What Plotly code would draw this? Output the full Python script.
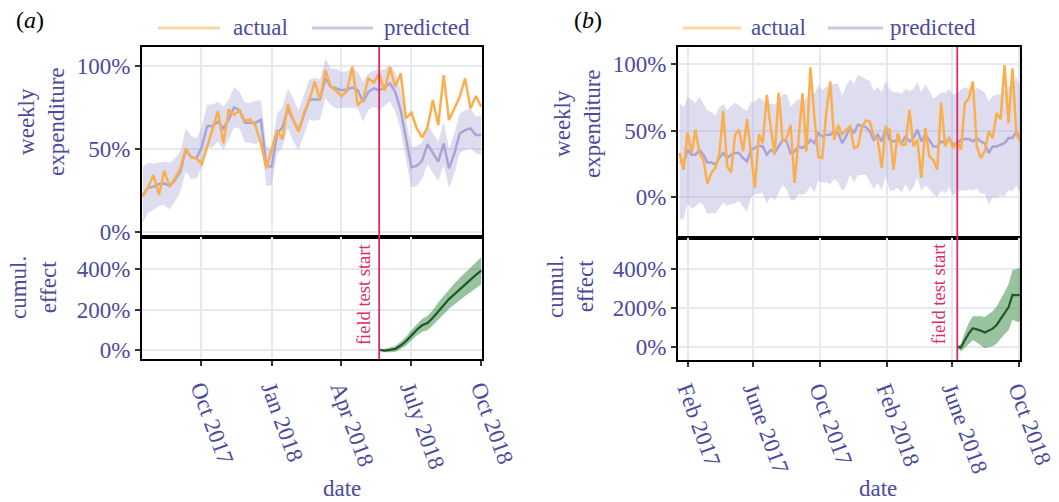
import plotly.graph_objects as go
import pandas as pd

W, H = 1059, 502

# ---------------- data: panel (a) ----------------
a_dates = pd.date_range("2017-07-17", periods=64, freq="7D")
a_actual = [21.3, 27.3, 34.3, 22.3, 36.9, 27.3, 32.3, 38.4, 50.4, 45.0,
            44.4, 41.0, 51.4, 61.8, 72.9, 53.4, 73.9, 70.5, 73.5, 66.9,
            67.9, 63.9, 53.4, 38.4, 49.4, 61.4, 55.8, 77.1, 67.5, 60.4,
            71.5, 79.5, 90.6, 79.9, 97.6, 87.6, 85.1, 81.9, 85.1, 99.6,
            76.5, 79.9, 92.6, 90.0, 95.6, 85.1, 99.2, 87.6, 95.6, 68.5,
            71.9, 62.4, 57.0, 63.1, 79.5, 64.5, 94.6, 67.5, 74.5, 81.5,
            92.6, 74.5, 81.9, 75.5]
a_pred = [22.3, 26.7, 27.3, 28.9, 29.3, 27.7, 31.3, 36.3, 49.4, 45.0,
          44.4, 51.4, 63.9, 63.9, 66.5, 62.4, 67.9, 75.1, 73.5, 65.9,
          65.9, 65.9, 67.5, 39.8, 39.4, 59.4, 63.1, 74.5, 67.5, 61.4,
          70.5, 79.9, 79.9, 79.9, 92.6, 87.6, 86.5, 85.5, 85.9, 87.1,
          85.5, 78.5, 84.5, 86.5, 85.5, 87.1, 89.6, 84.5, 73.5, 55.4,
          39.0, 39.8, 43.0, 53.0, 47.4, 42.4, 53.4, 38.4, 47.4, 59.4,
          61.4, 62.4, 58.4, 58.4]
a_band = [17, 15, 14, 13, 13, 14, 13, 12, 13, 13,
          12, 12, 13, 13, 12, 13, 12, 12, 11, 12,
          12, 13, 12, 12, 11, 12, 12, 12, 13, 12,
          12, 12, 13, 12, 12, 11, 12, 11, 11, 12,
          11, 12, 11, 11, 12, 11, 11, 12, 12, 12,
          12, 12, 11, 12, 12, 12, 13, 12, 12, 12,
          12, 12, 11, 12]
a_field_test = "2018-05-21"
a_start = 44
a_cum = [0, -3, 0, 5, 22, 43, 72, 100, 122, 133,
         160, 193, 222, 252, 277, 302, 325, 347, 372, 393]
a_cum_band = [2, 8, 12, 15, 18, 22, 25, 28, 32, 35,
              38, 42, 45, 48, 52, 55, 58, 61, 64, 67]
a_tickvals = ["2017-10-01", "2018-01-01", "2018-04-01", "2018-07-01", "2018-10-01"]
a_ticktext = ["Oct 2017", "Jan 2018", "Apr 2018", "July 2018", "Oct 2018"]

# ---------------- data: panel (b) ----------------
b_dates = pd.date_range("2017-01-17", "2018-10-11", periods=88)
b_actual = [33.0, 20.5, 48.6, 33.0, 50.6, 33.0, 28.0, 10.0, 18.0, 21.8,
            31.8, 64.8, 23.0, 18.5, 46.8, 50.6, 34.3, 58.6, 33.0, 6.8,
            47.3, 40.5, 76.8, 51.8, 31.8, 78.6, 41.8, 44.3, 54.3, 10.5,
            43.0, 78.1, 34.3, 97.6, 60.6, 30.0, 29.3, 63.1, 86.9, 43.0,
            54.3, 46.8, 50.6, 53.1, 36.8, 38.0, 52.6, 57.6, 56.8, 45.6,
            43.0, 21.8, 52.6, 50.6, 20.5, 48.1, 39.3, 39.3, 65.6, 38.0,
            43.0, 14.3, 51.8, 30.5, 28.0, 20.5, 71.1, 38.0, 44.3, 36.8,
            41.8, 35.5, 70.6, 74.3, 86.9, 38.0, 29.3, 34.3, 49.3, 44.3,
            63.1, 58.6, 99.4, 55.6, 96.9, 46.8, 41.8, 81.8]
b_pred = [26.8, 25.5, 35.5, 31.8, 31.8, 35.5, 31.8, 26.0, 26.0, 24.3,
          29.3, 33.0, 29.3, 31.8, 33.0, 33.0, 29.3, 26.8, 35.5, 36.8,
          38.5, 38.0, 31.8, 35.5, 33.5, 38.0, 43.0, 41.8, 33.0, 34.3,
          38.0, 36.8, 39.3, 43.0, 40.5, 48.1, 45.6, 46.8, 46.8, 49.3,
          48.1, 40.5, 45.6, 52.6, 48.1, 54.3, 53.6, 52.6, 49.3, 43.0,
          46.8, 41.8, 51.8, 43.0, 41.8, 43.0, 40.5, 45.6, 41.8, 44.3,
          50.6, 41.8, 46.8, 43.0, 38.0, 38.0, 41.8, 40.5, 44.3, 39.3,
          40.5, 43.0, 43.6, 43.6, 41.8, 44.3, 41.8, 40.5, 33.0, 38.0,
          38.0, 39.3, 40.5, 44.3, 44.3, 49.3, 43.0, 43.0]
b_band = [44, 42, 40, 41, 39, 40, 38, 39, 38, 37,
          38, 37, 36, 37, 38, 36, 37, 38, 36, 35,
          36, 35, 37, 35, 36, 35, 34, 36, 35, 37,
          36, 35, 36, 35, 37, 36, 35, 36, 37, 36,
          37, 36, 38, 36, 37, 38, 37, 36, 38, 37,
          36, 37, 36, 38, 37, 36, 37, 36, 38, 37,
          36, 37, 38, 37, 36, 38, 37, 38, 37, 38,
          37, 38, 39, 38, 37, 38, 39, 38, 39, 38,
          39, 38, 40, 39, 40, 41, 40, 40]
b_field_test = "2018-06-10"
b_start = 70
b_cum = [0, -3, 36, 70, 96, 91, 84, 74, 84, 94,
         113, 143, 173, 204, 268, 266, 268, 294]
b_cum_band = [3, 20, 40, 55, 62, 68, 74, 80, 85, 90,
              95, 100, 108, 118, 128, 135, 140, 145]
b_tickvals = ["2017-02-01", "2017-06-01", "2017-10-01", "2018-02-01", "2018-06-01", "2018-10-01"]
b_ticktext = ["Feb 2017", "June 2017", "Oct 2017", "Feb 2018", "June 2018", "Oct 2018"]

y_top_ticks = [0, 50, 100]
y_top_text = ["0%", "50%", "100%"]
y_bot_ticks = [0, 200, 400]
y_bot_text = ["0%", "200%", "400%"]

# ---------------- styles ----------------
FONT = "Liberation Serif"
ORANGE = "#FBAE4C"
PRED = "#A9A4D4"
BAND = "rgba(168,162,212,0.38)"
GREEN = "#1D5A27"
GBAND = "rgba(60,140,70,0.52)"
RED = "#DC2A62"
TXT = "#4B4B9E"
GRID = "#E7E9F1"


def px(x):
    return x / W


def py(y):
    return 1 - y / H


fig = go.Figure()


def add_band(dates, center, half, xa, ya, fillcolor):
    lo = [c - h for c, h in zip(center, half)]
    hi = [c + h for c, h in zip(center, half)]
    fig.add_trace(go.Scatter(x=dates, y=lo, xaxis=xa, yaxis=ya, mode="lines",
                             line=dict(width=0), showlegend=False, hoverinfo="skip"))
    fig.add_trace(go.Scatter(x=dates, y=hi, xaxis=xa, yaxis=ya, mode="lines",
                             line=dict(width=0), fill="tonexty", fillcolor=fillcolor,
                             showlegend=False, hoverinfo="skip"))


# panel a top
add_band(a_dates, a_pred, a_band, "x", "y", BAND)
fig.add_trace(go.Scatter(x=a_dates, y=a_pred, xaxis="x", yaxis="y", mode="lines",
                         line=dict(color=PRED, width=2.5), name="predicted", showlegend=False))
fig.add_trace(go.Scatter(x=a_dates, y=a_actual, xaxis="x", yaxis="y", mode="lines",
                         line=dict(color=ORANGE, width=2.5), name="actual", showlegend=False))
# panel a bottom
a_cd = a_dates[a_start:]
add_band(a_cd, a_cum, a_cum_band, "x2", "y2", GBAND)
fig.add_trace(go.Scatter(x=a_cd, y=a_cum, xaxis="x2", yaxis="y2", mode="lines",
                         line=dict(color=GREEN, width=2.2), showlegend=False))
# panel b top
add_band(b_dates, b_pred, b_band, "x3", "y3", BAND)
fig.add_trace(go.Scatter(x=b_dates, y=b_pred, xaxis="x3", yaxis="y3", mode="lines",
                         line=dict(color=PRED, width=2.5), name="predicted", showlegend=False))
fig.add_trace(go.Scatter(x=b_dates, y=b_actual, xaxis="x3", yaxis="y3", mode="lines",
                         line=dict(color=ORANGE, width=2.5), name="actual", showlegend=False))
# panel b bottom
b_cd = b_dates[b_start:]
add_band(b_cd, b_cum, b_cum_band, "x4", "y4", GBAND)
fig.add_trace(go.Scatter(x=b_cd, y=b_cum, xaxis="x4", yaxis="y4", mode="lines",
                         line=dict(color=GREEN, width=2.2), showlegend=False))

common = dict(showline=True, linecolor="black", linewidth=2, mirror=True,
              showgrid=True, gridcolor=GRID, gridwidth=2, zeroline=False,
              automargin=False, tickfont=dict(family=FONT, size=23, color=TXT))

xa_dom = [px(142), px(482)]
xb_dom = [px(678), px(1020)]
a_range = ["2017-07-16", "2018-10-02"]
b_range = ["2017-01-14", "2018-10-03"]

xtop = dict(common, type="date", showticklabels=False, ticks="")
xbot = dict(common, type="date", ticks="outside", ticklen=5, tickwidth=1.5,
            tickcolor="#333", tickangle=70)
yax = dict(common, ticks="outside", ticklen=5, tickwidth=1.5, tickcolor="#333")

layout = dict(
    width=W, height=H, margin=dict(l=0, r=0, t=0, b=0),
    paper_bgcolor="white", plot_bgcolor="white",
    font=dict(family=FONT, size=23, color=TXT),
    showlegend=False,
    xaxis=dict(xtop, domain=xa_dom, range=a_range, tickvals=a_tickvals, anchor="y", matches="x2"),
    xaxis2=dict(xbot, domain=xa_dom, range=a_range, tickvals=a_tickvals, ticktext=a_ticktext, anchor="y2"),
    xaxis3=dict(xtop, domain=xb_dom, range=b_range, tickvals=b_tickvals, anchor="y3", matches="x4"),
    xaxis4=dict(xbot, domain=xb_dom, range=b_range, tickvals=b_tickvals, ticktext=b_ticktext, anchor="y4"),
    yaxis=dict(yax, domain=[py(237), py(47)], range=[-3, 111.5], tickvals=y_top_ticks,
               ticktext=y_top_text, anchor="x"),
    yaxis2=dict(yax, domain=[py(359), py(237)], range=[-45, 560], tickvals=y_bot_ticks,
                ticktext=y_bot_text, anchor="x2"),
    yaxis3=dict(yax, domain=[py(238), py(47)], range=[-31, 113], tickvals=y_top_ticks,
                ticktext=y_top_text, anchor="x3"),
    yaxis4=dict(yax, domain=[py(360), py(238)], range=[-67, 560], tickvals=y_bot_ticks,
                ticktext=y_bot_text, anchor="x4"),
)
fig.update_layout(**layout)

shapes = []
# dotted zero lines
for xa, ya in [("x", "y"), ("x2", "y2"), ("x3", "y3"), ("x4", "y4")]:
    shapes.append(dict(type="line", xref=xa + " domain", yref=ya, x0=0, x1=1, y0=0, y1=0,
                       line=dict(color="#444", width=1, dash="dot"), layer="below"))
# field test lines
for xa, ya, d in [("x", "y", a_field_test), ("x2", "y2", a_field_test),
                  ("x3", "y3", b_field_test), ("x4", "y4", b_field_test)]:
    shapes.append(dict(type="line", xref=xa, yref=ya + " domain", x0=d, x1=d, y0=0, y1=1,
                       line=dict(color=RED, width=1.8)))
# legend samples
for x0, x1, c in [(158, 220, "rgba(251,174,76,0.5)"), (312, 373, "rgba(168,162,212,0.6)"),
                  (683, 741, "rgba(251,174,76,0.5)"), (828, 883, "rgba(168,162,212,0.6)")]:
    shapes.append(dict(type="line", xref="paper", yref="paper", x0=px(x0), x1=px(x1),
                       y0=py(28), y1=py(28), line=dict(color=c, width=3)))
fig.update_layout(shapes=shapes)

ann = []


def note(text, x, y, **kw):
    d = dict(text=text, x=px(x), y=py(y), xref="paper", yref="paper", showarrow=False,
             font=dict(family=FONT, size=23, color=TXT), xanchor="center", yanchor="middle")
    d.update(kw)
    ann.append(d)


note("weekly<br>expenditure", 41, 122, textangle=-90)
note("cumul.<br>effect", 33, 288, textangle=-90)
note("weekly<br>expenditure", 577, 124, textangle=-90)
note("cumul.<br>effect", 570, 287, textangle=-90)
note("date", 342, 488)
note("date", 878, 488)
note("(<i>a</i>)", 30, 20, font=dict(family=FONT, size=24, color="black"))
note("(<i>b</i>)", 588, 20, font=dict(family=FONT, size=24, color="black"))
note("actual", 231, 28, xanchor="left")
note("predicted", 382, 28, xanchor="left")
note("actual", 749, 28, xanchor="left")
note("predicted", 888, 28, xanchor="left")

for xa, ya, d, sh, ys in [("x2", "y2", a_field_test, -3, 3), ("x4", "y4", b_field_test, -6, 1)]:
    ann.append(dict(text="field test start", x=d, y=0, xref=xa, yref=ya, showarrow=False,
                    textangle=-90, xanchor="right", yanchor="bottom", xshift=sh, yshift=ys,
                    font=dict(family=FONT, size=18.5, color=RED)))
fig.update_layout(annotations=ann)

fig.write_html("out.html", config={"displayModeBar": False},
               post_script="document.body.style.margin='0px';")
